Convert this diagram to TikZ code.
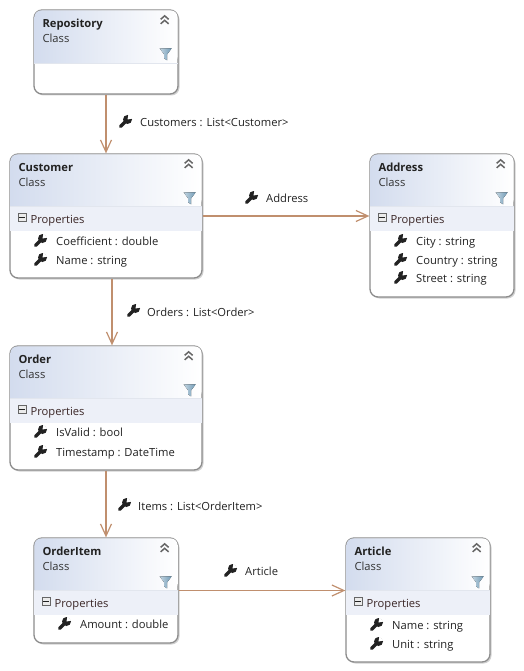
\documentclass[tikz,border=0pt]{standalone}
\usepackage{fontspec}
\setmainfont{Open Sans}
\usepackage{xcolor}
\usetikzlibrary{arrows.meta,calc,shadows}
\definecolor{LinkBrown}{HTML}{C08F6E}
\definecolor{BoxEdge}{HTML}{8C8C8C}
\definecolor{HeadBlue}{HTML}{D3DCEE}
\definecolor{BandBlue}{HTML}{EDF0F8}
\definecolor{RuleBlue}{HTML}{E2E6EE}
\definecolor{Ink}{HTML}{222222}
\definecolor{FunnelLight}{HTML}{C3D6E2}
\definecolor{FunnelDark}{HTML}{6F9AB5}
\definecolor{BandInk}{HTML}{3A2626}
\tikzset{
  wrench/.pic={
    \draw[Ink,line width=3.5pt,line cap=round] (-4.5,4.5) -- (1.5,-1.5);
    \fill[Ink] (2.5,-2.5) circle (4.5);
    \fill[white] (2.5,-2.5) -- (3.5,-8) -- (8,-3.5) -- cycle;
  },
  funnel/.pic={
    \fill[left color=FunnelLight,right color=FunnelDark] (-6,-5) -- (6,-5) -- (1.5,1) -- (1.5,7) -- (-1.5,5) -- (-1.5,1) -- cycle;
  },
  chevrons/.pic={
    \draw[black!60,line width=1.5pt] (-4,-1) -- (0,-4.5) -- (4,-1);
    \draw[black!60,line width=1.5pt] (-4,3.5) -- (0,0) -- (4,3.5);
  }
}
% class header: box name, title, header height
\newcommand{\classhead}[3]{
  \path[left color=HeadBlue,right color=white,rounded corners=7pt]
    ($(#1.north west)+(1,1)$) -- ($(#1.north east)+(-1,1)$) -- ($(#1.north east)+(-1,#3)$) [sharp corners] -- ($(#1.north west)+(1,#3)$) [rounded corners=7pt] -- cycle;
  \draw[RuleBlue] ($(#1.north west)+(1,#3)$) -- ($(#1.north east)+(-1,#3)$);
  \node[classtitle] (#1title) at ($(#1.north west)+(9,14)$) {#2};
  \node[classtype] (#1type) at ($(#1.north west)+(9,29)$) {Class};
  \pic at ($(#1.north east)+(-14,11)$) {chevrons};
  \pic at ($(#1.north east)+(-13,44)$) {funnel};
}
% properties band: box name, header height
\newcommand{\propband}[2]{
  \fill[BandBlue] ($(#1.north west)+(1,#2+.5)$) rectangle ($(#1.north east)+(-1,#2+25)$);
  \node[minusbox] (#1minus) at ($(#1.north west)+(13,#2+11)$) {};
  \draw[Ink] ($(#1minus.center)+(-3,0)$) -- ($(#1minus.center)+(3,0)$);
  \node[classband] (#1band) at ($(#1.north west)+(21,#2+12.5)$) {Properties};
}
\begin{document}
\begin{tikzpicture}[
  x=1pt,y=-1pt,
  txt/.style={font=\fontsize{11.2pt}{13pt}\selectfont,text=Ink,anchor=west,inner sep=0pt,text height=9pt,text depth=.5pt},
  classbox/.style={draw=BoxEdge,line width=1.3pt,rounded corners=8pt,fill=white,drop shadow={shadow xshift=1.5pt,shadow yshift=-1.5pt,fill=black!30,opacity=.6},inner sep=0pt},
  classtitle/.style={txt,font=\fontsize{11.2pt}{13pt}\selectfont\bfseries},
  classtype/.style={txt,text=black!80},
  classband/.style={txt,text=BandInk},
  member/.style={txt},
  linklabel/.style={txt},
  minusbox/.style={draw=black!60,fill=black!8,minimum size=8pt,inner sep=0pt},
  arr/.style={-{Straight Barb[length=12pt,width=11pt]},draw=LinkBrown,line width=1.2pt}
]
\useasboundingbox (0,0) rectangle (523,671);

\node[classbox,minimum width=144pt,minimum height=84pt] (repository) at (106,52) {};
\classhead{repository}{Repository}{54}

\node[classbox,minimum width=192pt,minimum height=124pt] (customer) at (106,216) {};
\classhead{customer}{Customer}{53}
\propband{customer}{53}
\node[member] (customercoeff) at (56,241) {Coefficient : double};
\node[member] (customername) at (56,260) {Name : string};
\pic at (40,241) {wrench};
\pic at (40,260) {wrench};

\node[classbox,minimum width=144pt,minimum height=143pt] (address) at (442,225.5) {};
\classhead{address}{Address}{53}
\propband{address}{53}
\node[member] (addresscity) at (416,241) {City : string};
\node[member] (addresscountry) at (416,260) {Country : string};
\node[member] (addressstreet) at (416,278) {Street : string};
\pic at (400,241) {wrench};
\pic at (400,260) {wrench};
\pic at (400,278) {wrench};

\node[classbox,minimum width=192pt,minimum height=124pt] (order) at (106,408) {};
\classhead{order}{Order}{53}
\propband{order}{53}
\node[member] (orderisvalid) at (56,432) {IsValid : bool};
\node[member] (ordertime) at (56,452) {Timestamp : DateTime};
\pic at (40,432) {wrench};
\pic at (40,452) {wrench};

\node[classbox,minimum width=144pt,minimum height=105pt] (orderitem) at (106,590.5) {};
\classhead{orderitem}{OrderItem}{53}
\propband{orderitem}{53}
\node[member] (itemamount) at (80,624) {Amount : double};
\pic at (64,624) {wrench};

\node[classbox,minimum width=144pt,minimum height=124pt] (article) at (418,600) {};
\classhead{article}{Article}{53}
\propband{article}{53}
\node[member] (articlename) at (392,625) {Name : string};
\node[member] (articleunit) at (392,644) {Unit : string};
\pic at (376,625) {wrench};
\pic at (376,644) {wrench};

\draw[arr] (repository.south) -- (customer.north);
\draw[arr] (customer.east) -- (customer.east -| address.west);
\draw[arr] ([xshift=6pt]customer.south) -- ([xshift=6pt]order.north);
\draw[arr] (order.south) -- (orderitem.north);
\draw[arr] (orderitem.east) -- (orderitem.east -| article.west);

\node[linklabel] (customerslink) at (140,122) {Customers : List<Customer>};
\pic at (125,122) {wrench};
\node[linklabel] (addresslink) at (266,198) {Address};
\pic at (251,198) {wrench};
\node[linklabel] (orderslink) at (147,312) {Orders : List<Order>};
\pic at (133,311) {wrench};
\node[linklabel] (itemslink) at (138,506) {Items : List<OrderItem>};
\pic at (124,505) {wrench};
\node[linklabel] (articlelink) at (245,571) {Article};
\pic at (230,571) {wrench};
\end{tikzpicture}
\end{document}
